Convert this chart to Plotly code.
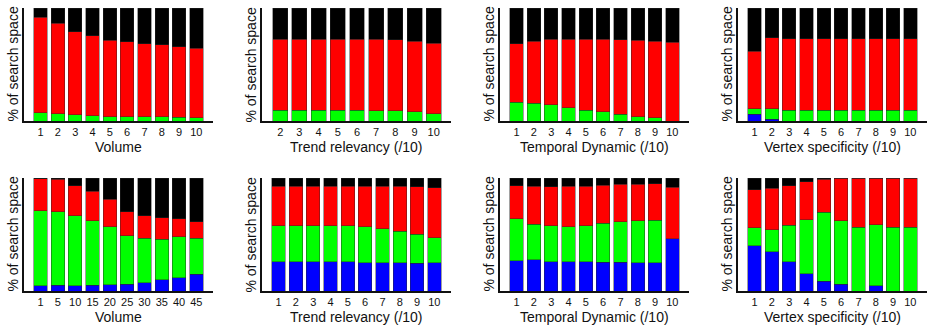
import plotly.graph_objects as go

# ---------------- data ----------------
cats_top_volume = ["1", "2", "3", "4", "5", "6", "7", "8", "9", "10"]
cats_trend_top = ["2", "3", "4", "5", "6", "7", "8", "9", "10"]
cats_ten = ["1", "2", "3", "4", "5", "6", "7", "8", "9", "10"]
cats_bot_volume = ["1", "5", "10", "15", "20", "25", "30", "35", "40", "45"]

# Top row
a_blue = [0, 0, 0, 0, 0, 0, 0, 0, 0, 0]
a_green = [7.5, 6.6, 5.7, 4.8, 3.9, 3.9, 3.6, 3.6, 3.3, 3.0]
a_red = [84.5, 80.0, 73.3, 70.7, 67.7, 66.2, 64.8, 63.9, 62.4, 61.5]
a_black = [8.0, 13.4, 21.0, 24.5, 28.4, 29.9, 31.6, 32.5, 34.3, 35.5]

b_blue = [0, 0, 0, 0, 0, 0, 0, 0, 0]
b_green = [9.6, 9.6, 9.6, 9.6, 9.4, 9.2, 9.0, 8.0, 6.3]
b_red = [62.9, 62.9, 62.9, 62.9, 63.1, 63.0, 63.0, 62.7, 62.7]
b_black = [27.5, 27.5, 27.5, 27.5, 27.5, 27.8, 28.0, 29.3, 31.0]

c_blue = [0, 0, 0, 0, 0, 0, 0, 0, 0, 0]
c_green = [16.7, 15.8, 14.3, 11.9, 9.3, 8.4, 6.0, 3.9, 3.0, 0]
c_red = [51.7, 54.9, 58.2, 60.6, 63.2, 64.1, 65.9, 67.4, 67.7, 69.9]
c_black = [31.6, 29.3, 27.5, 27.5, 27.5, 27.5, 28.1, 28.7, 29.3, 30.1]

d_blue = [6.0, 1.5, 0, 0, 0, 0, 0, 0, 0, 0]
d_green = [5.0, 9.5, 9.3, 9.3, 9.3, 9.3, 9.3, 9.3, 9.3, 9.3]
d_red = [50.8, 62.7, 63.5, 63.5, 63.5, 63.5, 63.5, 63.5, 63.5, 63.5]
d_black = [38.2, 26.3, 27.2, 27.2, 27.2, 27.2, 27.2, 27.2, 27.2, 27.2]

# Bottom row
e_blue = [4.5, 5.0, 4.7, 5.3, 5.6, 5.9, 7.4, 9.8, 11.6, 14.8]
e_green = [66.4, 65.3, 61.8, 57.0, 51.4, 43.1, 39.2, 36.2, 36.2, 31.8]
e_red = [28.5, 28.5, 26.7, 25.8, 24.0, 21.0, 19.9, 19.0, 16.3, 14.8]
e_black = [0.6, 1.2, 6.8, 11.9, 19.0, 30.0, 33.5, 35.0, 35.9, 38.6]

f_blue = [25.8, 25.8, 25.8, 25.8, 25.8, 25.2, 24.9, 24.9, 24.6, 24.9]
f_green = [32.1, 32.1, 32.1, 32.1, 31.8, 31.5, 30.3, 28.2, 25.8, 22.3]
f_red = [34.7, 34.7, 34.7, 34.7, 35.0, 35.9, 37.4, 39.5, 41.9, 44.2]
f_black = [7.4, 7.4, 7.4, 7.4, 7.4, 7.4, 7.4, 7.4, 7.7, 8.6]

g_blue = [26.7, 27.6, 26.1, 25.8, 25.8, 25.5, 25.5, 25.2, 24.9, 46.3]
g_green = [37.1, 31.4, 31.5, 30.9, 32.1, 34.4, 35.9, 37.1, 37.7, 0]
g_red = [29.4, 33.6, 34.7, 35.9, 34.7, 33.6, 33.0, 32.1, 32.4, 45.4]
g_black = [6.8, 7.4, 7.7, 7.4, 7.4, 6.5, 5.6, 5.6, 5.0, 8.3]

h_blue = [40.0, 34.9, 26.0, 15.2, 8.7, 6.0, 0, 4.5, 0, 0]
h_green = [15.8, 19.4, 32.2, 47.8, 61.2, 56.1, 56.4, 54.0, 56.4, 56.4]
h_red = [33.8, 36.7, 34.9, 33.7, 29.2, 37.9, 43.6, 41.5, 43.6, 43.6]
h_black = [10.4, 9.0, 6.9, 3.3, 0.9, 0, 0, 0, 0, 0]

x_titles = ["Volume", "Trend relevancy (/10)", "Temporal Dynamic (/10)", "Vertex specificity (/10)"]
y_title = "% of search space"

panels = [
    (cats_top_volume, a_blue, a_green, a_red, a_black, x_titles[0]),
    (cats_trend_top, b_blue, b_green, b_red, b_black, x_titles[1]),
    (cats_ten, c_blue, c_green, c_red, c_black, x_titles[2]),
    (cats_ten, d_blue, d_green, d_red, d_black, x_titles[3]),
    (cats_bot_volume, e_blue, e_green, e_red, e_black, x_titles[0]),
    (cats_ten, f_blue, f_green, f_red, f_black, x_titles[1]),
    (cats_ten, g_blue, g_green, g_red, g_black, x_titles[2]),
    (cats_ten, h_blue, h_green, h_red, h_black, x_titles[3]),
]

colors = ["#0000ff", "#00ff00", "#ff0000", "#000000"]

# ---------------- layout geometry (pixels) ----------------
W, H = 930, 330
col_left = [24, 262, 500, 738]
col_w = 189
row_top = [8, 178]
row_h = 113

FONT = "Liberation Sans, Arial, Helvetica, sans-serif"

fig = go.Figure()
layout = dict(
    width=W, height=H,
    margin=dict(l=0, r=0, t=0, b=0),
    paper_bgcolor="white", plot_bgcolor="white",
    barmode="stack", bargap=0.22,
    showlegend=False,
    font=dict(family=FONT, size=11, color="#111"),
)
annotations = []

for i, (cats, blue, green, red, black, xt) in enumerate(panels):
    r, c = divmod(i, 4)
    idx = i + 1
    xa = "x" if idx == 1 else f"x{idx}"
    ya = "y" if idx == 1 else f"y{idx}"
    xpos = list(range(len(cats)))
    for vals, col in zip([blue, green, red, black], colors):
        fig.add_trace(go.Bar(
            x=xpos, y=vals, xaxis=xa, yaxis=ya,
            marker=dict(color=col, line=dict(color="rgba(40,40,40,0.55)", width=0.8)),
            hoverinfo="skip",
        ))
    x0 = col_left[c] / W
    x1 = (col_left[c] + col_w) / W
    y1 = 1 - row_top[r] / H
    y0 = 1 - (row_top[r] + row_h) / H
    n = len(cats)
    if n == 9:
        xr = [-0.95, 8.9]
    else:
        xr = [-0.96, 9.96]
    layout[f"xaxis{'' if idx == 1 else idx}"] = dict(
        domain=[x0, x1], anchor=ya, range=xr,
        tickmode="array", tickvals=xpos, ticktext=cats,
        showline=True, linecolor="#111", linewidth=1.5,
        ticks="", ticklen=0,
        showgrid=False, zeroline=False,
        tickfont=dict(family=FONT, size=11, color="#111"),
        fixedrange=True,
    )
    layout[f"yaxis{'' if idx == 1 else idx}"] = dict(
        domain=[y0, y1], anchor=xa, range=[0, 100],
        showline=True, linecolor="#111", linewidth=1.5,
        showticklabels=False, ticks="", showgrid=False, zeroline=False,
        fixedrange=True,
    )
    # x title
    annotations.append(dict(
        text=xt, xref="paper", yref="paper",
        x=(col_left[c] + col_w / 2) / W,
        y=1 - (row_top[r] + row_h + 26) / H,
        xanchor="center", yanchor="middle", showarrow=False,
        font=dict(family=FONT, size=14, color="#111"),
    ))
    # y title
    annotations.append(dict(
        text=y_title, xref="paper", yref="paper",
        x=(col_left[c] - 12) / W,
        y=1 - (row_top[r] + row_h / 2) / H,
        xanchor="center", yanchor="middle", showarrow=False, textangle=-90,
        font=dict(family=FONT, size=14, color="#111"),
    ))

layout["annotations"] = annotations
fig.update_layout(**layout)
fig.write_html(
    "out.html",
    config={"displayModeBar": False},
    post_script="document.body.style.margin='0';document.body.style.padding='0';",
)
